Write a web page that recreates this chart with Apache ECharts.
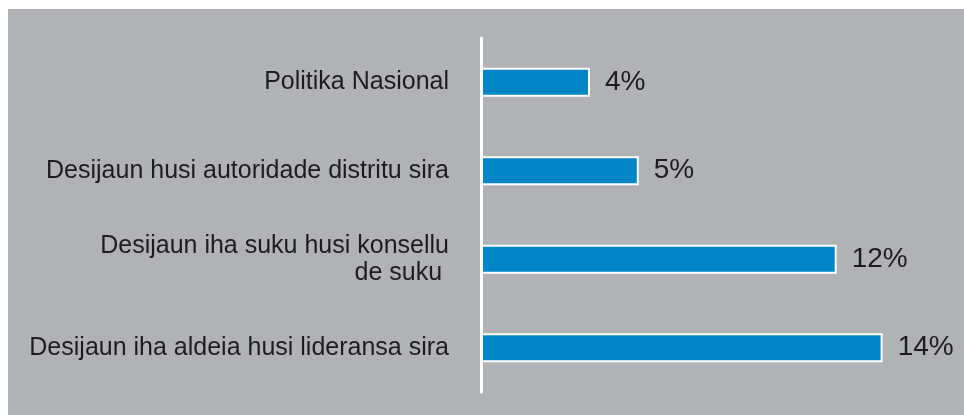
<!DOCTYPE html>
<html>
<head>
<meta charset="utf-8">
<script src="https://cdn.jsdelivr.net/npm/echarts@6/dist/echarts.min.js"></script>
<style>
  html, body { margin: 0; padding: 0; background: #fff; }
  #main { width: 964px; height: 415px; }
</style>
</head>
<body>
<div id="main"></div>
<script>
// categories, top to bottom
var categories = [
  'Politika Nasional',
  'Desijaun husi autoridade distritu sira',
  'Desijaun iha suku husi konsellu\nde suku ',
  'Desijaun iha aldeia husi lideransa sira'
];
// bar lengths (percent)
var values = [3.8, 5.5, 12.4, 14.0];
// printed labels
var valueLabels = ['4%', '5%', '12%', '14%'];

var chart = echarts.init(document.getElementById('main'), null, { renderer: 'canvas' });

var option = {
  backgroundColor: '#ffffff',
  animation: false,
  graphic: [{
    type: 'rect',
    z: -10,
    shape: { x: 8, y: 9, width: 956, height: 406 },
    style: { fill: '#b1b2b6' }
  }],
  grid: {
    left: 481,
    top: 38,
    width: 459,
    height: 354
  },
  xAxis: {
    type: 'value',
    min: 0,
    max: 16,
    show: false
  },
  yAxis: {
    type: 'category',
    inverse: true,
    data: categories,
    axisLine: {
      show: true,
      lineStyle: { color: '#ffffff', width: 3 }
    },
    axisTick: { show: false },
    axisLabel: {
      margin: 32,
      fontSize: 25,
      lineHeight: 27,
      color: '#1e1c1d',
      fontFamily: 'Liberation Sans, Arial, sans-serif',
      align: 'right'
    },
    z: 5
  },
  series: [{
    type: 'bar',
    data: values,
    barWidth: 29,
    itemStyle: {
      color: '#0085c7',
      borderColor: '#ffffff',
      borderWidth: 2
    },
    label: {
      show: true,
      position: 'right',
      distance: 15,
      fontSize: 28,
      color: '#1e1c1d',
      fontFamily: 'Liberation Sans, Arial, sans-serif',
      formatter: function (p) { return valueLabels[p.dataIndex]; }
    }
  }]
};

chart.setOption(option);
</script>
</body>
</html>
